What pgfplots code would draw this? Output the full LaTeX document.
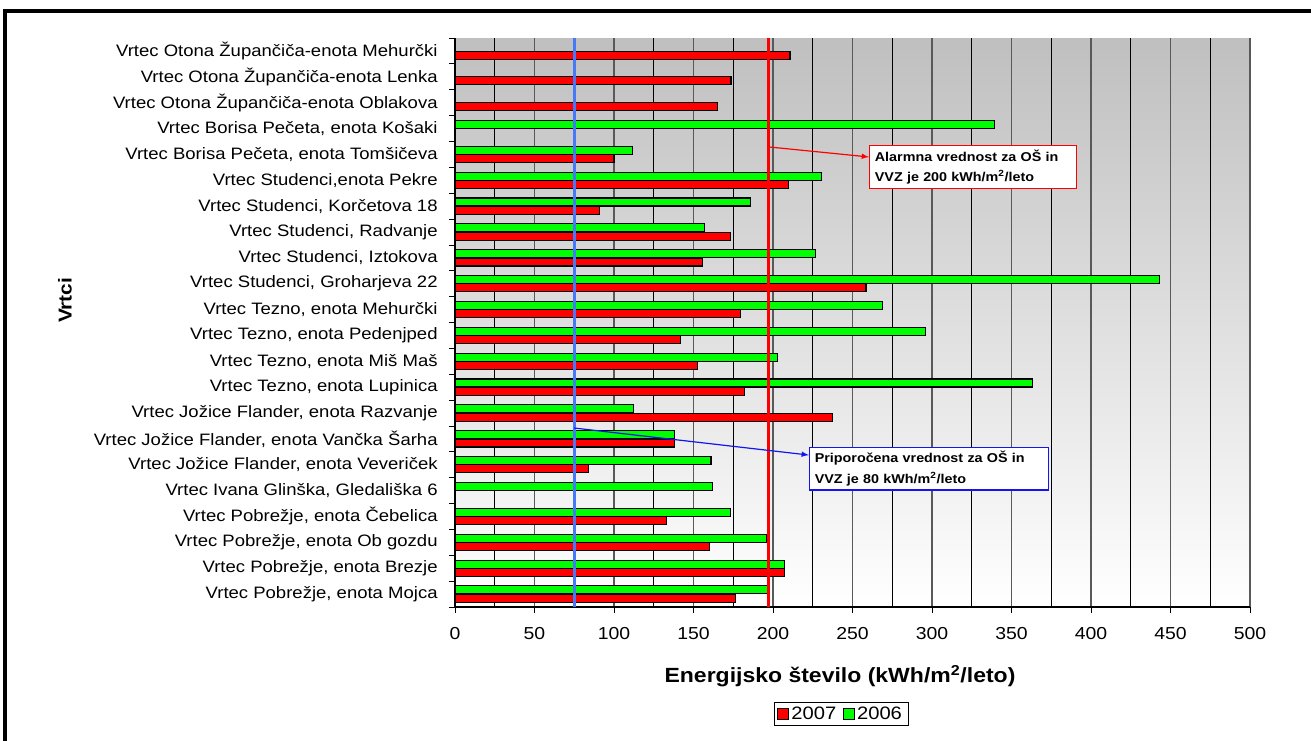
\documentclass[border=0pt]{standalone}
\usepackage{fontspec}
\setmainfont{Liberation Sans}[FakeStretch=1.12]
\usepackage{pgfplots}
\pgfplotsset{compat=1.18}
\definecolor{barred}{RGB}{255,0,0}
\definecolor{bargreen}{RGB}{0,255,0}
\definecolor{lineblue}{RGB}{70,120,250}
\definecolor{linered}{RGB}{255,0,0}
\definecolor{boxblue}{RGB}{20,20,240}

% 2007 values (y index 0 = bottom: Mojca)
\pgfplotstableread{
y val
0 176.7
1 207.5
2 160
3 133
5 84
6 138
7 237.5
8 181.8
9 152.4
10 142
11 179.4
12 258.5
13 155.8
14 173
15 90.6
16 210
17 100
19 165
20 173.6
21 210.7
}\datared
% 2006 values
\pgfplotstableread{
y val
0 196.5
1 207.5
2 196
3 173
4 161.8
5 161
6 138
7 112
8 363.3
9 203
10 296
11 268.8
12 442.8
13 226.8
14 157
15 185.7
16 230.6
17 111.7
18 339.6
}\datagreen

\begin{document}
\begin{tikzpicture}[x=1pt,y=1pt]
\useasboundingbox (-341.25,-99.75) rectangle (642,455.25);
\draw[line width=2.4pt] (-337.5,-200) -- (-337.5,447) -- (800,447);
\begin{axis}[
  at={(0,0)}, anchor=south west,
  scale only axis, width=596.25pt, height=426.75pt,
  xmin=0, xmax=500, ymin=-0.5, ymax=21.5,
  axis lines*=left,
  axis line style={black, line width=0.8pt},
  axis background/.style={top color=black!25, bottom color=white},
  xtick={0,50,...,500},
  minor x tick num=1,
  xmajorgrids, xminorgrids,
  major grid style={gray!70!black, line width=0.9pt},
  minor grid style={black, line width=0.5pt},
  tick align=outside, major tick length=4.5pt, minor tick length=0pt,
  tick style={black, line width=0.6pt},
  ytick={-0.5,0.5,...,21.5},
  y tick label as interval,
  yticklabels={
    {Vrtec Pobrežje, enota Mojca},
    {Vrtec Pobrežje, enota Brezje},
    {Vrtec Pobrežje, enota Ob gozdu},
    {Vrtec Pobrežje, enota Čebelica},
    {Vrtec Ivana Glinška, Gledališka 6},
    {Vrtec Jožice Flander, enota Veveriček},
    {Vrtec Jožice Flander, enota Vančka Šarha},
    {Vrtec Jožice Flander, enota Razvanje},
    {Vrtec Tezno, enota Lupinica},
    {Vrtec Tezno, enota Miš Maš},
    {Vrtec Tezno, enota Pedenjped},
    {Vrtec Tezno, enota Mehurčki},
    {Vrtec Studenci, Groharjeva 22},
    {Vrtec Studenci, Iztokova},
    {Vrtec Studenci, Radvanje\ },
    {Vrtec Studenci, Korčetova 18},
    {Vrtec Studenci,enota Pekre},
    {Vrtec Borisa Pečeta, enota Tomšičeva},
    {Vrtec Borisa Pečeta, enota Košaki},
    {Vrtec Otona Župančiča-enota Oblakova},
    {Vrtec Otona Župančiča-enota Lenka},
    {Vrtec Otona Župančiča-enota Mehurčki}},
  yticklabel style={font=\fontsize{12.4}{14}\selectfont, xshift=-5pt},
  xticklabel style={font=\fontsize{13}{15}\selectfont, yshift=-7pt},
  /pgf/number format/assume math mode=true,
  legend style={at={(0.4855,-0.188)}, anchor=center, draw=black, line width=0.6pt,
    font=\fontsize{13.5}{15}\selectfont, legend columns=2, inner xsep=2.5pt, inner ysep=1pt,
    /tikz/every even column/.append style={column sep=3pt}},
  legend image code/.code={\draw[#1, line width=0.6pt] (0pt,-4pt) rectangle (8pt,4pt);},
  clip=false,
]
\addplot[xbar, bar width=6pt, draw=black, fill=barred, line width=0.8pt, bar shift=-3.1pt] table[x=val,y=y] {\datared};
\addlegendentry{2007}
\addplot[xbar, bar width=6pt, draw=black, fill=bargreen, line width=0.8pt, bar shift=3.1pt] table[x=val,y=y] {\datagreen};
\addlegendentry{2006}
\addplot[forget plot, lineblue, line width=2.4pt, mark=none] coordinates {(75,-0.5) (75,21.5)};
\addplot[forget plot, linered, line width=2.4pt, mark=none] coordinates {(197,-0.5) (197,21.5)};
\draw[linered, line width=0.9pt, -latex] (axis cs:197,17.29) -- (axis cs:260.4,16.9);
\draw[boxblue, line width=0.9pt, -latex] (axis cs:75,6.42) -- (axis cs:222.6,5.375);
\node[draw=linered, fill=white, line width=0.8pt, anchor=west, align=left, text width=147pt,
  inner xsep=4pt, inner ysep=3pt, font=\bfseries\fontsize{9.6}{15.5}\selectfont]
  at (axis cs:260.4,16.51) {Alarmna vrednost za OŠ in\\VVZ je 200 kWh/m\textsuperscript{2}/leto};
\node[draw=boxblue, fill=white, line width=0.8pt, anchor=west, align=left, text width=171pt,
  inner xsep=4pt, inner ysep=3pt, font=\bfseries\fontsize{9.6}{15.5}\selectfont]
  at (axis cs:222.6,4.85) {Priporočena vrednost za OŠ in\\VVZ je 80 kWh/m\textsuperscript{2}/leto};
\end{axis}
\node[font=\bfseries\fontsize{15.4}{18}\selectfont] at (288.75,-51.75) {Energijsko število (kWh/m\textsuperscript{2}/leto)};
\node[font=\bfseries\fontsize{14}{17}\selectfont, rotate=90] at (-292.5,230) {Vrtci};
\end{tikzpicture}
\end{document}
